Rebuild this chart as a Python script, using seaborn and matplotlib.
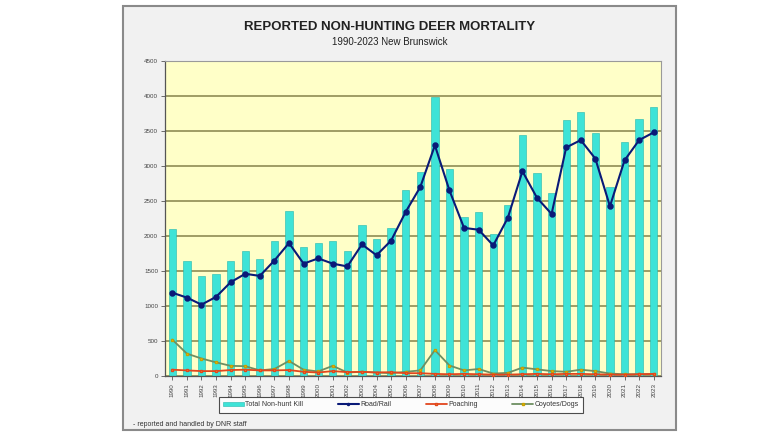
import matplotlib
matplotlib.use("Agg")
import matplotlib.pyplot as plt
from matplotlib.patches import Rectangle, Patch
from matplotlib.lines import Line2D
import seaborn as sns
import pandas as pd

years = [str(y) for y in range(1990, 2024)]
total_kill = [2100, 1650, 1430, 1460, 1650, 1790, 1670, 1930, 2360, 1840,
              1900, 1930, 1790, 2150, 1960, 2120, 2650, 2920, 3990, 2960,
              2270, 2340, 2030, 2440, 3440, 2900, 2620, 3660, 3775, 3465,
              2695, 3340, 3670, 3840]
road_rail = [1190, 1120, 1020, 1130, 1340, 1460, 1430, 1650, 1900, 1605,
             1680, 1605, 1565, 1880, 1725, 1935, 2345, 2700, 3295, 2650,
             2115, 2090, 1865, 2260, 2925, 2545, 2315, 3265, 3370, 3105,
             2425, 3080, 3370, 3480]
poaching = [90, 80, 70, 70, 85, 90, 80, 80, 85, 60,
            50, 70, 55, 60, 50, 55, 40, 40, 30, 25,
            30, 25, 20, 20, 25, 30, 25, 30, 30, 25,
            20, 20, 25, 30]
coyotes_dogs = [520, 320, 250, 195, 145, 140, 80, 100, 215, 90,
                65, 145, 50, 60, 50, 40, 60, 80, 370, 150,
                80, 100, 35, 45, 120, 95, 70, 60, 90, 70,
                35, 25, 25, 30]
series_names = ["Total Non-hunt Kill", "Road/Rail", "Poaching", "Coyotes/Dogs"]
title = "REPORTED NON-HUNTING DEER MORTALITY"
subtitle = "1990-2023 New Brunswick"
footnote = "- reported and handled by DNR staff"

df = pd.DataFrame({"year": years, "total": total_kill, "road": road_rail,
                   "poach": poaching, "coyote": coyotes_dogs})

sns.set_style("white")
plt.rcParams["font.family"] = ["Liberation Sans", "DejaVu Sans"]

BAR = "#3EE3D7"
ROAD = "#0A1A78"
POACH = "#E2461E"
COY = "#6E8F62"
GRID = "#85834A"

fig = plt.figure(figsize=(7.8, 4.34), dpi=100)
fig.patch.set_facecolor("white")
fig.patches.append(Rectangle((123 / 780, 1 - 430 / 434), (676 - 123) / 780, 424 / 434,
                             transform=fig.transFigure, facecolor="#F1F1F1",
                             edgecolor="#8A8A8A", linewidth=1.5, zorder=-10))

ax = fig.add_axes([165 / 780, 1 - 376 / 434, (661 - 165) / 780, (376 - 61) / 434])
ax.set_zorder(1)
ax.set_facecolor("#FFFFC8")

sns.barplot(data=df, x="year", y="total", color=BAR, saturation=1, width=0.5,
            edgecolor="#22B8AE", linewidth=0.4, ax=ax, zorder=2)
sns.pointplot(data=df, x="year", y="coyote", color=COY, markers="s", markersize=1.5,
              linewidth=1.3, ax=ax, markerfacecolor="#F2D21C", markeredgecolor="#C8A000",
              zorder=3)
sns.pointplot(data=df, x="year", y="poach", color=POACH, markers="s", markersize=1.5,
              linewidth=1.3, ax=ax, markerfacecolor="#F7C21A", markeredgecolor=POACH,
              zorder=4)
sns.pointplot(data=df, x="year", y="road", color=ROAD, markers="o", markersize=3.5,
              linewidth=1.5, ax=ax, zorder=5)

ax.set_ylim(0, 4500)
ax.set_xlim(-0.5, len(years) - 0.5)
ax.set_yticks(range(0, 4501, 500))
ax.yaxis.grid(True, color=GRID, linewidth=1.1)
ax.xaxis.grid(False)
ax.set_axisbelow(True)
ax.set_xlabel("")
ax.set_ylabel("")
for s in ["left", "bottom"]:
    ax.spines[s].set_color("#555555")
    ax.spines[s].set_linewidth(0.9)
for s in ["top", "right"]:
    ax.spines[s].set_color("#9A9A9A")
    ax.spines[s].set_linewidth(0.8)
ax.tick_params(axis="y", labelsize=4.5, length=3, width=0.6, color="#555555",
               labelcolor="#444444", pad=2, left=True)
ax.tick_params(axis="x", labelsize=4.5, length=3, width=0.6, color="#555555",
               labelcolor="#444444", pad=2, rotation=90, bottom=True)

fig.text(0.5, 1 - 27 / 434, title, ha="center", va="center", fontsize=9.5,
         fontweight="bold", color="#222222")
fig.text(0.5, 1 - 42 / 434, subtitle, ha="center", va="center", fontsize=7,
         color="#222222")
fig.text(133 / 780, 1 - 424 / 434, footnote, ha="left", va="center", fontsize=5,
         color="#333333")

handles = [
    Patch(facecolor=BAR, edgecolor="#22B8AE", linewidth=0.4),
    Line2D([], [], color=ROAD, linewidth=1.5, marker="o", markersize=1.5),
    Line2D([], [], color=POACH, linewidth=1.3, marker="s", markersize=1.5,
           markerfacecolor="#F7C21A", markeredgecolor=POACH),
    Line2D([], [], color=COY, linewidth=1.3, marker="s", markersize=1.5,
           markerfacecolor="#F2D21C", markeredgecolor="#C8A000"),
]
leg = fig.legend(handles, series_names, loc="center", ncol=4,
                 bbox_to_anchor=(401 / 780, 1 - 405 / 434), fontsize=5,
                 frameon=True, fancybox=False, edgecolor="#222222",
                 handlelength=3, handleheight=0.6, columnspacing=5,
                 handletextpad=0.2, borderpad=0.6, labelcolor="#333333")
leg.get_frame().set_linewidth(0.8)
leg.get_frame().set_facecolor("white")

fig.savefig("out.png", dpi=100, facecolor="white")
